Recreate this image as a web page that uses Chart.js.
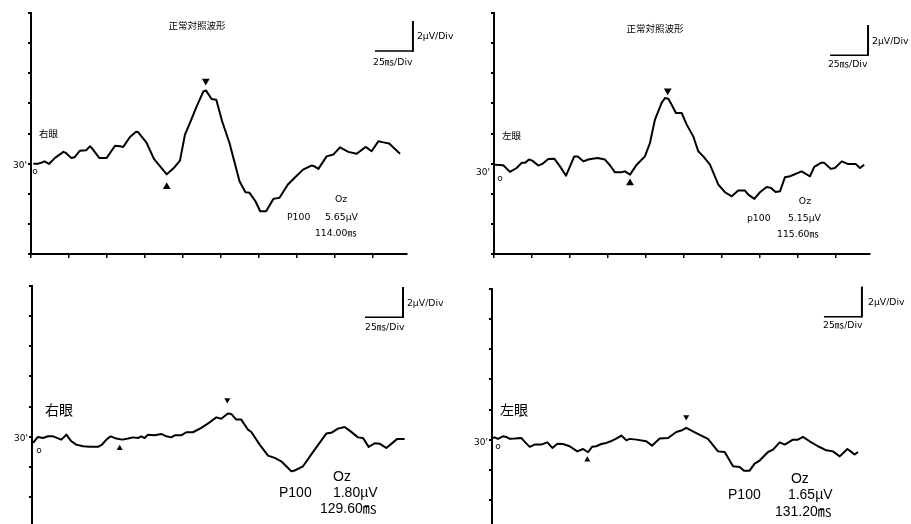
<!DOCTYPE html>
<html><head><meta charset="utf-8">
<script src="https://cdn.jsdelivr.net/npm/chart.js@4.4.1/dist/chart.umd.min.js"></script>
<style>
html,body{margin:0;padding:0;background:#fff;overflow:hidden;width:911px;height:524px;position:relative;}
canvas{position:absolute;}
</style></head><body>
<canvas id="c0"></canvas><canvas id="c1"></canvas><canvas id="c2"></canvas><canvas id="c3"></canvas>
<script>
// ---- data: time (ms) and amplitude (µV, relative to baseline) ----
const rightNormalT = [1.5,4.8,8.1,8.9,11.8,15.8,21.3,23,26.4,28.6,32.2,36.2,38.8,40.3,44.9,49.8,55.3,58.6,60.7,65.1,69.1,70.6,76.1,80.9,89.3,93.6,98,101.3,104.6,109,113.4,115.1,118.8,121.9,125.8,130.6,137.2,141.1,143.8,147.7,150.8,154.7,159.5,163.5,169,174.5,179,184.4,186.5,189.1,194.5,198.9,203.3,208.8,214.3,220.2,224.1,228.5,231.8,235.7,242.8];
const rightNormalV = [0,0,0.11,0.15,-0.02,0.38,0.78,0.71,0.38,0.42,0.86,0.88,1.15,1.0,0.38,0.38,1.19,1.15,1.11,1.77,2.12,2.08,1.37,0.31,-0.71,-0.33,0.2,1.92,2.7,3.8,4.79,4.86,4.29,4.24,2.8,1.37,-1.17,-1.9,-1.94,-2.5,-3.16,-3.16,-2.34,-2.27,-1.39,-0.84,-0.4,-0.13,-0.18,-0.35,0.48,0.6,1.08,0.78,0.66,1.11,0.82,1.48,1.41,1.33,0.66];
const leftNormalT = [0.7,6.1,10.5,14.9,18.2,20.4,23.0,25.2,29.1,31.8,35.7,39.7,43.4,47.4,50.0,52.8,55.1,58.8,62.0,64.7,68.2,73.0,76.3,79.6,83.6,86.2,89.5,93.9,99.3,102.6,105.9,110.3,112.5,114.7,116.9,119.7,123.5,126.8,131.1,134.4,137.7,142.1,147.6,152.0,156.4,160.7,165.1,167.3,171.3,175.0,179.4,182.2,185.3,188.2,191.4,194.7,202.4,207.9,210.7,215.1,217.3,221.7,224.3,228.8,232.7,238.0,240.8,243.6];
const leftNormalV = [-0.07,-0.11,-0.55,-0.29,0.05,0.05,0.27,0.2,-0.13,-0.02,0.31,0.33,-0.18,-0.8,-0.18,0.48,0.48,0.15,0.27,0.33,0.38,0.27,-0.11,-0.58,-0.58,-0.51,-0.73,-0.07,0.48,1.37,2.92,4.03,4.36,4.31,3.91,3.36,3.36,2.59,1.81,0.82,0.48,-0.07,-1.39,-1.9,-2.17,-1.79,-1.79,-2.06,-2.34,-1.9,-1.55,-1.61,-1.88,-1.84,-0.91,-0.84,-0.51,-0.84,-0.22,0.05,0.05,-0.35,-0.29,0.15,-0.02,-0.02,-0.29,-0.07];
const rightPatientT = [0.7,3.9,7.2,10.5,13.8,19.3,22.6,25.9,29.1,33.6,38.0,43.4,46.1,48.9,51.8,55.5,59.4,63.2,66.4,69.7,71.9,74.1,76.3,80.7,85.1,88.4,91.6,93.9,98.2,101.5,105.9,111.4,116.9,121.3,124.5,128.9,131.1,134.4,137.7,142.1,144.3,149.8,155.3,159.7,164.0,170.6,172.8,178.3,186.0,193.6,196.9,201.3,205.7,209.0,214.5,217.8,221.5,225.5,228.9,233.1,236.4,240.3,245.2];
const rightPatientV = [-0.42,-0.02,-0.09,0.02,0.02,-0.2,0.13,-0.31,-0.53,-0.64,-0.68,-0.68,-0.53,-0.2,0.02,-0.13,-0.2,-0.13,-0.05,-0.09,0.02,-0.09,0.13,0.09,0.18,0.02,-0.05,0.09,0.09,0.29,0.29,0.58,0.95,1.28,1.19,1.53,1.51,1.13,1.13,0.46,0.31,-0.53,-1.26,-1.41,-1.64,-2.3,-2.25,-1.97,-0.86,0.2,0.25,0.53,0.64,0.4,-0.05,-0.09,-0.68,-0.44,-0.48,-0.75,-0.48,-0.15,-0.15];
const leftPatientT = [0.7,1.8,3.9,7.2,9.4,11.6,14.9,19.3,21.9,24.8,28.1,32.4,36.4,39.7,43.0,46.7,51.1,56.1,59.9,63.2,65.8,68.6,71.9,75.2,78.1,81.4,85.1,88.4,90.6,95.0,101.5,105.3,110.3,115.8,121.3,124.5,127.8,132.2,137.7,142.1,148.7,153.1,158.6,163.0,165.8,169.5,172.8,176.1,181.6,184.9,189.3,192.6,198.0,201.3,204.6,209.0,214.5,220.0,224.3,228.8,233.8,236.0,238.6,240.8];
const leftPatientV = [0.11,0.15,0.05,0.22,0.18,0.05,0.07,0.11,-0.18,-0.48,-0.33,-0.33,-0.18,-0.55,-0.27,-0.29,-0.44,-0.78,-0.62,-0.84,-0.48,-0.44,-0.29,-0.22,-0.11,0.05,0.27,-0.05,0.05,0,-0.11,-0.4,0.07,0.11,0.51,0.6,0.78,0.55,0.27,0.05,-0.78,-0.82,-1.77,-1.81,-2.06,-2.06,-1.59,-1.39,-0.82,-0.66,-0.18,-0.33,0,0,0.18,-0.11,-0.44,-0.71,-0.78,-1.11,-0.62,-0.78,-0.99,-0.82];
// peak markers: [P100 (▼), N75 (▲)]
const rightNormalMarkT = [115, 89.3],  rightNormalMarkV = [5.48, -1.53];
const leftNormalMarkT  = [114.3, 89.5], leftNormalMarkV  = [4.84, -1.28];
const rightPatientMarkT = [128.5, 57.7], rightPatientMarkV = [2.43, -0.78];
const leftPatientMarkT  = [127.8, 62.7], leftPatientMarkV  = [1.5, -1.33];
// axis ticks: 25 ms/Div, 2 µV/Div
const xRange = [0, 247], xStep = 25;
const yRange = [-6, 10], yStep = 2;
const baselineLabel = "30'";
const barMs = 25, barUv = 2;

const SMALL = '9.3px "DejaVu Sans", "Noto Sans CJK JP"';
const CJK = '9.5px "Noto Sans CJK JP"';
const BIG = '14px "Liberation Sans", "Noto Sans CJK JP"';
const BIGCJK = '14px "Noto Sans CJK JP"';
const TINY = '9px "DejaVu Sans"';

const panels = [
  { id:'c0', left:0, top:0, width:455, axisW:31, padTop:13, labelOff:2, t:rightNormalT, v:rightNormalV,
    mt:rightNormalMarkT, mv:rightNormalMarkV, mr:4.5, bar:[251.3,7.47],
    texts:[
      ['正常対照波形',109.2,9.19,CJK,'center'],
      ['右眼',5.3,2.03,CJK,'left'],
      ['o',2.6,-0.56,TINY,'center'],
      ['Oz',204,-2.41,SMALL,'center'],
      ['P100',168.4,-3.6,SMALL,'left'],
      ['5.65µV',193.4,-3.6,SMALL,'left'],
      ['114.00㎳',186.8,-4.67,SMALL,'left'],
      ['2µV/Div',253.9,8.46,SMALL,'left'],
      ['25㎳/Div',225,6.74,SMALL,'left']
    ]},
  { id:'c1', left:455, top:0, width:456, axisW:39, padTop:13, labelOff:9, t:leftNormalT, v:leftNormalV,
    mt:leftNormalMarkT, mv:leftNormalMarkV, mr:4.5, bar:[246.1,7.2],
    texts:[
      ['正常対照波形',105.9,8.99,CJK,'center'],
      ['左眼',5.3,1.9,CJK,'left'],
      ['o',3.9,-1.02,TINY,'center'],
      ['Oz',204.6,-2.54,SMALL,'center'],
      ['p100',166.4,-3.67,SMALL,'left'],
      ['5.15µV',193.4,-3.67,SMALL,'left'],
      ['115.60㎳',186.2,-4.73,SMALL,'left'],
      ['2µV/Div',248.7,8.13,SMALL,'left'],
      ['25㎳/Div',219.7,6.6,SMALL,'left']
    ]},
  { id:'c2', left:0, top:272, width:455, axisW:32, padTop:14, labelOff:2, t:rightPatientT, v:rightPatientV,
    mt:rightPatientMarkT, mv:rightPatientMarkV, mr:3.5, bar:[244.1,7.93],
    texts:[
      ['右眼',8.6,1.76,BIGCJK,'left'],
      ['o',4.6,-0.95,TINY,'center'],
      ['Oz',204,-2.68,BIG,'center'],
      ['P100',162.5,-3.74,BIG,'left'],
      ['1.80µV',198.0,-3.74,BIG,'left'],
      ['129.60㎳',189.5,-4.8,BIG,'left'],
      ['2µV/Div',246.7,8.86,SMALL,'left'],
      ['25㎳/Div',219.1,7.27,SMALL,'left']
    ]},
  { id:'c3', left:455, top:272, width:456, axisW:37, padTop:17, labelOff:3, t:leftPatientT, v:leftPatientV,
    mt:leftPatientMarkT, mv:leftPatientMarkV, mr:3.5, bar:[243.4,8.16],
    texts:[
      ['左眼',5.3,1.99,BIGCJK,'left'],
      ['o',3.9,-0.46,TINY,'center'],
      ['Oz',202.6,-2.65,BIG,'center'],
      ['P100',155.3,-3.71,BIG,'left'],
      ['1.65µV',194.7,-3.71,BIG,'left'],
      ['131.20㎳',186.2,-4.84,BIG,'left'],
      ['2µV/Div',247.4,9.08,SMALL,'left'],
      ['25㎳/Div',217.8,7.56,SMALL,'left']
    ]}
];

const PLOT_W = 375.4, PLOT_H = 241, X_AXIS_H = 8;

function annotPlugin(p) {
  return {
    id: 'annot_' + p.id,
    afterDraw(chart) {
      const {ctx} = chart, x = chart.scales.x, y = chart.scales.y;
      ctx.save();
      ctx.fillStyle = '#000'; ctx.strokeStyle = '#000';
      const cx = x.getPixelForValue(p.bar[0]), cy = y.getPixelForValue(p.bar[1]);
      const hx = x.getPixelForValue(p.bar[0] - barMs), vy = y.getPixelForValue(p.bar[1] + barUv);
      ctx.lineWidth = 1.5;
      ctx.beginPath(); ctx.moveTo(hx, cy); ctx.lineTo(cx, cy); ctx.stroke();
      ctx.lineWidth = 2;
      ctx.beginPath(); ctx.moveTo(cx, vy); ctx.lineTo(cx, cy + 0.75); ctx.stroke();
      ctx.textBaseline = 'middle';
      for (const [text, t, v, font, align] of p.texts) {
        ctx.font = font; ctx.textAlign = align;
        ctx.fillText(text, x.getPixelForValue(t), y.getPixelForValue(v));
      }
      ctx.restore();
    }
  };
}

for (const p of panels) {
  const cv = document.getElementById(p.id);
  const h = Math.round(p.padTop + PLOT_H + X_AXIS_H);
  cv.width = p.width; cv.height = h;
  cv.style.left = p.left + 'px'; cv.style.top = p.top + 'px';
  cv.style.width = p.width + 'px'; cv.style.height = h + 'px';
  new Chart(cv, {
    type: 'line',
    data: {
      datasets: [
        { data: p.t.map((t, i) => ({x: t, y: p.v[i]})), borderColor: '#000', borderWidth: 2,
          pointRadius: 0, tension: 0, borderJoinStyle: 'round', fill: false },
        { data: p.mt.map((t, i) => ({x: t, y: p.mv[i]})), showLine: false, pointStyle: 'triangle',
          pointRadius: p.mr, pointRotation: [180, 0], backgroundColor: '#000', borderColor: '#000', borderWidth: 0 }
      ]
    },
    options: {
      responsive: false, animation: false, devicePixelRatio: 1, events: [],
      layout: { padding: { left: 0, top: p.padTop, right: p.width - p.axisW - PLOT_W, bottom: 0 } },
      plugins: { legend: { display: false }, tooltip: { enabled: false }, title: { display: false } },
      scales: {
        x: { type: 'linear', min: xRange[0], max: xRange[1],
             afterFit: s => { s.height = X_AXIS_H; },
             ticks: { display: false, stepSize: xStep, includeBounds: false },
             grid: { drawOnChartArea: false, drawTicks: true, tickLength: 4, color: '#000', lineWidth: 1.5 },
             border: { display: true, color: '#000', width: 2 } },
        y: { type: 'linear', min: yRange[0], max: yRange[1],
             afterFit: s => { s.width = p.axisW; },
             ticks: { stepSize: yStep, autoSkip: false, padding: 1, labelOffset: p.labelOff, color: '#000',
                      font: { family: 'DejaVu Sans', size: 9 },
                      callback: v => v === 0 ? baselineLabel : '' },
             grid: { drawOnChartArea: false, drawTicks: true, tickLength: 3, color: '#000', lineWidth: 2 },
             border: { display: true, color: '#000', width: 2 } }
      }
    },
    plugins: [annotPlugin(p)]
  });
}
</script>
</body></html>
